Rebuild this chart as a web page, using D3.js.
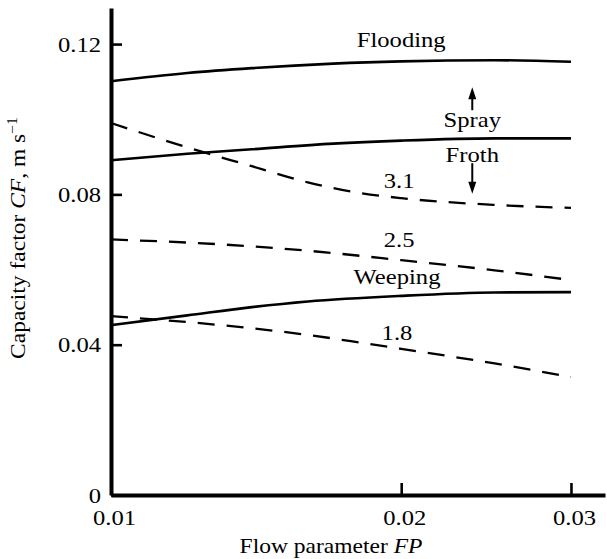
<!DOCTYPE html>
<html lang="en">
<head>
  <meta charset="UTF-8">
  <title>capacity-factor</title>
  <script src="https://cdn.jsdelivr.net/npm/d3@7"></script>
  <style type="text/css">
    html, body { margin: 0; background: #fff; }
    svg { display: block; }
    svg text { font-family: "Liberation Serif", "Times New Roman", serif !important; fill: #000; }
    .curve { fill: none; stroke: #000; stroke-width: 2.6; }
    .dashed { stroke-width: 2.3; stroke-dasharray: 17 12; }
  </style>
</head>
<body>
  <script>
    // flow parameter FP (log axis) and capacity factor CF, m/s
    var fpTicks = [0.01, 0.02, 0.03];
    var cfTicks = [0, 0.04, 0.08, 0.12];

    var flooding = [[0.01, 0.1101], [0.012, 0.1123], [0.014, 0.1136], [0.017, 0.1148], [0.02, 0.1154], [0.025, 0.1157], [0.03, 0.1153]];
    var sprayFroth = [[0.01, 0.0891], [0.012, 0.0908], [0.014, 0.0920], [0.017, 0.0935], [0.02, 0.0943], [0.025, 0.0949], [0.03, 0.0949]];
    var weeping = [[0.01, 0.0452], [0.012, 0.0478], [0.014, 0.0500], [0.016, 0.0515], [0.02, 0.0530], [0.025, 0.0539], [0.03, 0.0540]];
    var hole31 = [[0.01, 0.0990], [0.012, 0.0925], [0.014, 0.0875], [0.016, 0.0832], [0.018, 0.0805], [0.02, 0.0790], [0.025, 0.0772], [0.03, 0.0764]];
    var hole25 = [[0.01, 0.0680], [0.013, 0.0667], [0.016, 0.0650], [0.02, 0.0625], [0.025, 0.0598], [0.03, 0.0572]];
    var hole18 = [[0.01, 0.0476], [0.013, 0.0452], [0.016, 0.0426], [0.018, 0.0407], [0.02, 0.0389], [0.025, 0.0350], [0.03, 0.0314]];

    var labels = [
      {text: 'Flooding', fp: 0.0200, cf: 0.1192},
      {text: 'Spray', fp: 0.0237, cf: 0.0979},
      {text: 'Froth', fp: 0.0237, cf: 0.0886},
      {text: '3.1', fp: 0.0199, cf: 0.0817},
      {text: '2.5', fp: 0.0199, cf: 0.0660},
      {text: 'Weeping', fp: 0.0198, cf: 0.0561},
      {text: '1.8', fp: 0.0198, cf: 0.0412}
    ];
    // arrows: [fp, cf from, cf to]
    var arrows = [[0.0237, 0.1024, 0.1085], [0.0237, 0.0883, 0.0802]];

    var w = 607;
    var h = 559;
    var stretch = 1.12;
    var serif = '"Liberation Serif", "Times New Roman", serif';

    var svg = d3.select('body')
      .append('svg')
      .attr('width', w)
      .attr('height', h);

    var x = d3.scaleLog().domain([0.01, 0.03254]).range([111, 605]);
    var y = d3.scaleLinear().domain([0, 0.1296]).range([495, 8]);

    var line = d3.line()
      .x(function (d) { return x(d[0]); })
      .y(function (d) { return y(d[1]); })
      .curve(d3.curveMonotoneX);

    [flooding, sprayFroth, weeping].forEach(function (s) {
      svg.append('path').attr('class', 'curve').attr('d', line(s));
    });
    [hole31, hole25, hole18].forEach(function (s) {
      svg.append('path').attr('class', 'curve dashed').attr('d', line(s));
    });

    // axes
    var yAxis = svg.append('g')
      .attr('transform', 'translate(111,0)')
      .call(d3.axisLeft(y)
        .tickValues(cfTicks)
        .tickSize(-11)
        .tickSizeOuter(0)
        .tickPadding(10)
        .tickFormat(function (d) { return d === 0 ? '0' : d3.format('.2f')(d); }));

    var xAxis = svg.append('g')
      .attr('transform', 'translate(0,495)')
      .call(d3.axisBottom(x)
        .tickValues(fpTicks)
        .tickSize(-12)
        .tickSizeOuter(0)
        .tickPadding(14)
        .tickFormat(d3.format('.2f')));

    [yAxis, xAxis].forEach(function (g) {
      g.attr('font-family', serif).attr('font-size', 22);
      g.select('.domain').attr('stroke-width', 4).attr('stroke', '#000');
      g.selectAll('.tick line').attr('stroke-width', 2.6).attr('stroke', '#000');
      g.selectAll('.tick text')
        .style('font-family', serif)
        .style('font-size', '22px')
        .attr('transform', 'scale(' + stretch + ',1)');
    });
    yAxis.selectAll('.tick text').attr('x', -10 / stretch);
    xAxis.selectAll('.tick text').attr('x', 3 / stretch);
    xAxis.selectAll('.tick').filter(function (d) { return d === 0.01; }).select('line').remove();

    // curve labels
    labels.forEach(function (l) {
      svg.append('text')
        .attr('transform', 'translate(' + x(l.fp) + ',' + y(l.cf) + ') scale(' + stretch + ',1)')
        .attr('text-anchor', 'middle')
        .style('font-family', serif)
        .style('font-size', '22px')
        .text(l.text);
    });

    arrows.forEach(function (a) {
      var ax = x(a[0]);
      var y0 = y(a[1]);
      var y1 = y(a[2]);
      var dir = y1 < y0 ? -1 : 1;
      svg.append('line')
        .attr('x1', ax).attr('x2', ax)
        .attr('y1', y0).attr('y2', y1 - dir * 8)
        .attr('stroke', '#000').attr('stroke-width', 2);
      svg.append('path')
        .attr('d', 'M' + ax + ',' + y1 + 'L' + (ax - 4) + ',' + (y1 - dir * 12) + 'L' + (ax + 4) + ',' + (y1 - dir * 12) + 'Z')
        .attr('fill', '#000');
    });

    // axis titles
    var xt = svg.append('text')
      .attr('transform', 'translate(331,553) scale(' + stretch + ',1)')
      .attr('text-anchor', 'middle')
      .style('font-family', serif)
      .style('font-size', '21px');
    xt.append('tspan').text('Flow parameter ');
    xt.append('tspan').attr('font-style', 'italic').text('FP');

    var yt = svg.append('text')
      .attr('transform', 'translate(25,238) rotate(-90) scale(' + stretch + ',1)')
      .attr('text-anchor', 'middle')
      .style('font-family', serif)
      .style('font-size', '21px');
    yt.append('tspan').text('Capacity factor ');
    yt.append('tspan').attr('font-style', 'italic').text('CF');
    yt.append('tspan').text(', m s');
    yt.append('tspan').attr('font-size', 14).attr('dy', -8).text('\u22121');
  </script>
</body>
</html>
